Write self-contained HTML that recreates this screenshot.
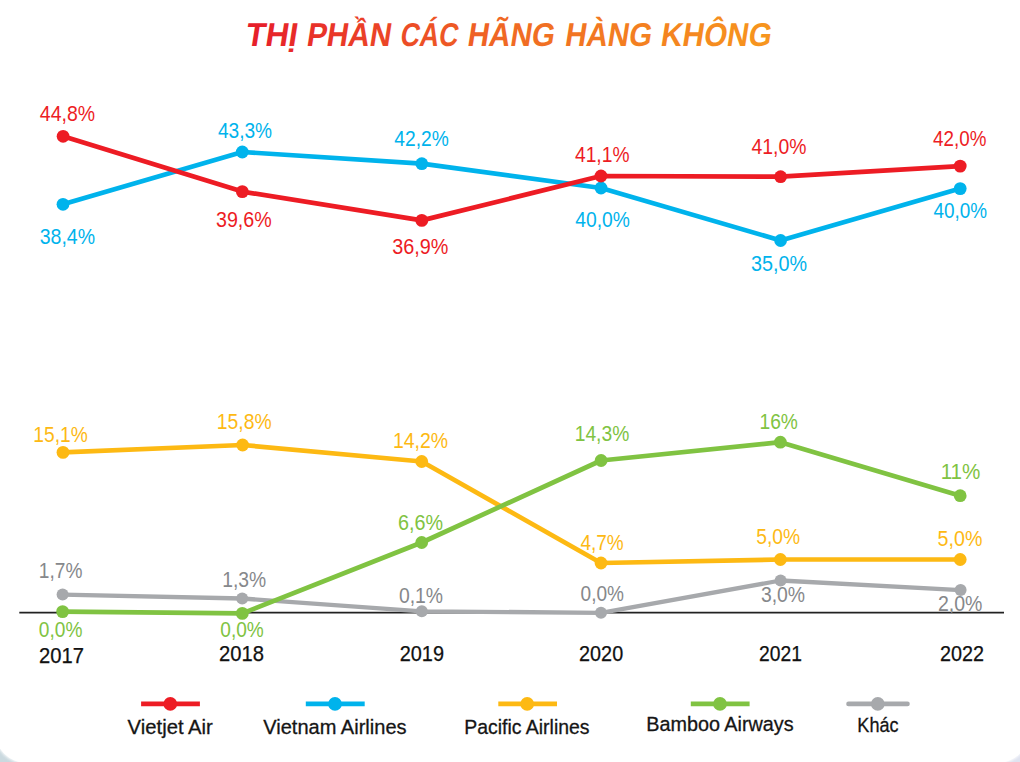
<!DOCTYPE html>
<html><head><meta charset="utf-8"><style>
html,body{margin:0;padding:0;background:linear-gradient(to right,#cad9df 0%,#d8e1e8 40%,#dfe3f0 100%);}
body{width:1020px;height:762px;overflow:hidden;position:relative;}
.card{position:absolute;left:-5px;top:-40px;width:1034px;height:803px;background:#fff;border-radius:0 0 32px 32px;box-shadow:0 0 3px 1px #fff;}
svg{position:absolute;left:0;top:0;}
text{font-family:"Liberation Sans",sans-serif;}
</style></head><body><div class="card"></div>
<svg width="1020" height="762" viewBox="0 0 1020 762">
<defs><linearGradient id="tg" x1="247" y1="0" x2="771" y2="0" gradientUnits="userSpaceOnUse">
<stop offset="0" stop-color="#E61E2A"/><stop offset="0.5" stop-color="#F06A24"/><stop offset="1" stop-color="#F7961E"/></linearGradient></defs>
<g font-size="33" font-weight="bold" fill="url(#tg)" transform="translate(0 46.2) skewX(-9) translate(0 -46.2)"><text x="244.59" y="46.2" textLength="51.60" lengthAdjust="spacingAndGlyphs">THỊ</text><text x="305.70" y="46.2" textLength="84.32" lengthAdjust="spacingAndGlyphs">PHẦN</text><text x="399.27" y="46.2" textLength="57.78" lengthAdjust="spacingAndGlyphs">CÁC</text><text x="466.51" y="46.2" textLength="86.89" lengthAdjust="spacingAndGlyphs">HÃNG</text><text x="564.01" y="46.2" textLength="86.69" lengthAdjust="spacingAndGlyphs">HÀNG</text><text x="659.80" y="46.2" textLength="110.49" lengthAdjust="spacingAndGlyphs">KHÔNG</text></g>
<line x1="19.3" y1="612.7" x2="1004" y2="612.7" stroke="#222" stroke-width="1.8"/>
<polyline points="62.6,594.6 242.2,598.5 421.8,611.3 601,612.8 780.6,580.5 960.6,590.1" fill="none" stroke="#A7A9AC" stroke-width="4.3" stroke-linejoin="round"/><circle cx="62.6" cy="594.6" r="6.0" fill="#A7A9AC"/><circle cx="242.2" cy="598.5" r="6.0" fill="#A7A9AC"/><circle cx="421.8" cy="611.3" r="6.0" fill="#A7A9AC"/><circle cx="601" cy="612.8" r="6.0" fill="#A7A9AC"/><circle cx="780.6" cy="580.5" r="6.0" fill="#A7A9AC"/><circle cx="960.6" cy="590.1" r="6.0" fill="#A7A9AC"/>
<polyline points="63,452.4 242.6,445 421.7,461.5 601,563 780.4,559.5 960.2,559.5" fill="none" stroke="#FDB913" stroke-width="4.7" stroke-linejoin="round"/><circle cx="63" cy="452.4" r="6.4" fill="#FDB913"/><circle cx="242.6" cy="445" r="6.4" fill="#FDB913"/><circle cx="421.7" cy="461.5" r="6.4" fill="#FDB913"/><circle cx="601" cy="563" r="6.4" fill="#FDB913"/><circle cx="780.4" cy="559.5" r="6.4" fill="#FDB913"/><circle cx="960.2" cy="559.5" r="6.4" fill="#FDB913"/>
<polyline points="62.6,611.6 242.3,613.4 421.7,542.5 601.1,460.5 780.4,442.2 960.2,495.7" fill="none" stroke="#80C342" stroke-width="4.7" stroke-linejoin="round"/><circle cx="62.6" cy="611.6" r="6.4" fill="#80C342"/><circle cx="242.3" cy="613.4" r="6.4" fill="#80C342"/><circle cx="421.7" cy="542.5" r="6.4" fill="#80C342"/><circle cx="601.1" cy="460.5" r="6.4" fill="#80C342"/><circle cx="780.4" cy="442.2" r="6.4" fill="#80C342"/><circle cx="960.2" cy="495.7" r="6.4" fill="#80C342"/>
<polyline points="63,204.3 242.3,152.0 421.8,163.7 601,188 780.6,240.5 960.2,188.6" fill="none" stroke="#00B3EC" stroke-width="4.7" stroke-linejoin="round"/><circle cx="63" cy="204.3" r="6.4" fill="#00B3EC"/><circle cx="242.3" cy="152.0" r="6.4" fill="#00B3EC"/><circle cx="421.8" cy="163.7" r="6.4" fill="#00B3EC"/><circle cx="601" cy="188" r="6.4" fill="#00B3EC"/><circle cx="780.6" cy="240.5" r="6.4" fill="#00B3EC"/><circle cx="960.2" cy="188.6" r="6.4" fill="#00B3EC"/>
<polyline points="63.1,136.3 242.3,191.6 421.8,220.4 601,176 780.6,176.7 960.2,166.1" fill="none" stroke="#ED1C24" stroke-width="4.7" stroke-linejoin="round"/><circle cx="63.1" cy="136.3" r="6.4" fill="#ED1C24"/><circle cx="242.3" cy="191.6" r="6.4" fill="#ED1C24"/><circle cx="421.8" cy="220.4" r="6.4" fill="#ED1C24"/><circle cx="601" cy="176" r="6.4" fill="#ED1C24"/><circle cx="780.6" cy="176.7" r="6.4" fill="#ED1C24"/><circle cx="960.2" cy="166.1" r="6.4" fill="#ED1C24"/>
<text x="39.80" y="120.9" textLength="55.27" lengthAdjust="spacingAndGlyphs" font-size="21.5" fill="#ED1C24">44,8%</text>
<text x="39.69" y="243.9" textLength="55.38" lengthAdjust="spacingAndGlyphs" font-size="21.5" fill="#00B3EC">38,4%</text>
<text x="217.90" y="137.6" textLength="54.17" lengthAdjust="spacingAndGlyphs" font-size="21.5" fill="#00B3EC">43,3%</text>
<text x="215.99" y="226.8" textLength="55.79" lengthAdjust="spacingAndGlyphs" font-size="21.5" fill="#ED1C24">39,6%</text>
<text x="394.30" y="145.9" textLength="54.47" lengthAdjust="spacingAndGlyphs" font-size="21.5" fill="#00B3EC">42,2%</text>
<text x="392.28" y="253.8" textLength="56.19" lengthAdjust="spacingAndGlyphs" font-size="21.5" fill="#ED1C24">36,9%</text>
<text x="575.00" y="162.1" textLength="54.47" lengthAdjust="spacingAndGlyphs" font-size="21.5" fill="#ED1C24">41,1%</text>
<text x="575.30" y="226.8" textLength="54.57" lengthAdjust="spacingAndGlyphs" font-size="21.5" fill="#00B3EC">40,0%</text>
<text x="751.50" y="153.8" textLength="54.87" lengthAdjust="spacingAndGlyphs" font-size="21.5" fill="#ED1C24">41,0%</text>
<text x="750.98" y="270.9" textLength="56.09" lengthAdjust="spacingAndGlyphs" font-size="21.5" fill="#00B3EC">35,0%</text>
<text x="933.10" y="146.1" textLength="53.27" lengthAdjust="spacingAndGlyphs" font-size="21.5" fill="#ED1C24">42,0%</text>
<text x="933.40" y="217.9" textLength="53.67" lengthAdjust="spacingAndGlyphs" font-size="21.5" fill="#00B3EC">40,0%</text>
<text x="33.31" y="441.6" textLength="54.47" lengthAdjust="spacingAndGlyphs" font-size="21.5" fill="#FDB913">15,1%</text>
<text x="216.80" y="429.2" textLength="54.87" lengthAdjust="spacingAndGlyphs" font-size="21.5" fill="#FDB913">15,8%</text>
<text x="392.90" y="447.6" textLength="55.18" lengthAdjust="spacingAndGlyphs" font-size="21.5" fill="#FDB913">14,2%</text>
<text x="580.40" y="549.5" textLength="43.31" lengthAdjust="spacingAndGlyphs" font-size="21.5" fill="#FDB913">4,7%</text>
<text x="756.20" y="544.3" textLength="43.91" lengthAdjust="spacingAndGlyphs" font-size="21.5" fill="#FDB913">5,0%</text>
<text x="937.59" y="546.4" textLength="44.83" lengthAdjust="spacingAndGlyphs" font-size="21.5" fill="#FDB913">5,0%</text>
<text x="38.80" y="636.8" textLength="43.61" lengthAdjust="spacingAndGlyphs" font-size="21.5" fill="#80C342">0,0%</text>
<text x="220.30" y="636.8" textLength="43.51" lengthAdjust="spacingAndGlyphs" font-size="21.5" fill="#80C342">0,0%</text>
<text x="397.98" y="529.5" textLength="45.03" lengthAdjust="spacingAndGlyphs" font-size="21.5" fill="#80C342">6,6%</text>
<text x="574.71" y="441.4" textLength="54.57" lengthAdjust="spacingAndGlyphs" font-size="21.5" fill="#80C342">14,3%</text>
<text x="759.51" y="429.2" textLength="38.43" lengthAdjust="spacingAndGlyphs" font-size="21.5" fill="#80C342">16%</text>
<text x="940.64" y="479.1" textLength="39.78" lengthAdjust="spacingAndGlyphs" font-size="21.5" fill="#80C342">11%</text>
<text x="38.81" y="577.6" textLength="43.60" lengthAdjust="spacingAndGlyphs" font-size="21.5" fill="#86888B">1,7%</text>
<text x="222.20" y="586.5" textLength="44.01" lengthAdjust="spacingAndGlyphs" font-size="21.5" fill="#86888B">1,3%</text>
<text x="398.90" y="602.5" textLength="44.11" lengthAdjust="spacingAndGlyphs" font-size="21.5" fill="#86888B">0,1%</text>
<text x="580.60" y="601.4" textLength="43.41" lengthAdjust="spacingAndGlyphs" font-size="21.5" fill="#86888B">0,0%</text>
<text x="760.90" y="602.4" textLength="44.22" lengthAdjust="spacingAndGlyphs" font-size="21.5" fill="#86888B">3,0%</text>
<text x="937.89" y="610.8" textLength="44.52" lengthAdjust="spacingAndGlyphs" font-size="21.5" fill="#86888B">2,0%</text>
<text x="39.08" y="662.9" textLength="45.00" lengthAdjust="spacingAndGlyphs" font-size="22" fill="#111" stroke="#111" stroke-width="0.25">2017</text>
<text x="219.08" y="660.9" textLength="45.00" lengthAdjust="spacingAndGlyphs" font-size="22" fill="#111" stroke="#111" stroke-width="0.25">2018</text>
<text x="399.69" y="660.9" textLength="44.37" lengthAdjust="spacingAndGlyphs" font-size="22" fill="#111" stroke="#111" stroke-width="0.25">2019</text>
<text x="579.10" y="660.9" textLength="44.06" lengthAdjust="spacingAndGlyphs" font-size="22" fill="#111" stroke="#111" stroke-width="0.25">2020</text>
<text x="759.12" y="660.9" textLength="42.91" lengthAdjust="spacingAndGlyphs" font-size="22" fill="#111" stroke="#111" stroke-width="0.25">2021</text>
<text x="939.90" y="660.6" textLength="44.06" lengthAdjust="spacingAndGlyphs" font-size="22" fill="#111" stroke="#111" stroke-width="0.25">2022</text>
<line x1="141.1" y1="703.9" x2="199.9" y2="703.9" stroke="#ED1C24" stroke-width="4.6" stroke-linecap="butt"/>
<circle cx="170.3" cy="703.9" r="6.8" fill="#ED1C24"/>
<text x="127.60" y="733.7" textLength="85.23" lengthAdjust="spacingAndGlyphs" font-size="20.5" fill="#151515" stroke="#151515" stroke-width="0.3">Vietjet Air</text>
<line x1="305.8" y1="703.9" x2="364.7" y2="703.9" stroke="#00B3EC" stroke-width="4.6" stroke-linecap="butt"/>
<circle cx="335" cy="703.9" r="6.8" fill="#00B3EC"/>
<text x="263.20" y="733.5" textLength="143.41" lengthAdjust="spacingAndGlyphs" font-size="20.5" fill="#151515" stroke="#151515" stroke-width="0.3">Vietnam Airlines</text>
<line x1="498.3" y1="703.9" x2="557" y2="703.9" stroke="#FDB913" stroke-width="4.6" stroke-linecap="butt"/>
<circle cx="527.2" cy="703.9" r="6.8" fill="#FDB913"/>
<text x="464.25" y="733.5" textLength="125.31" lengthAdjust="spacingAndGlyphs" font-size="20.5" fill="#151515" stroke="#151515" stroke-width="0.3">Pacific Airlines</text>
<line x1="690.8" y1="703.9" x2="749.6" y2="703.9" stroke="#80C342" stroke-width="4.6" stroke-linecap="butt"/>
<circle cx="720" cy="703.9" r="6.8" fill="#80C342"/>
<text x="646.23" y="731.3" textLength="147.43" lengthAdjust="spacingAndGlyphs" font-size="20.5" fill="#151515" stroke="#151515" stroke-width="0.3">Bamboo Airways</text>
<line x1="848.5" y1="703.9" x2="907.5" y2="703.9" stroke="#A7A9AC" stroke-width="4.6" stroke-linecap="round"/>
<circle cx="877.8" cy="703.9" r="6.8" fill="#A7A9AC"/>
<text x="857.32" y="731.5" textLength="41.23" lengthAdjust="spacingAndGlyphs" font-size="20.5" fill="#151515" stroke="#151515" stroke-width="0.3">Khác</text>
</svg></body></html>
